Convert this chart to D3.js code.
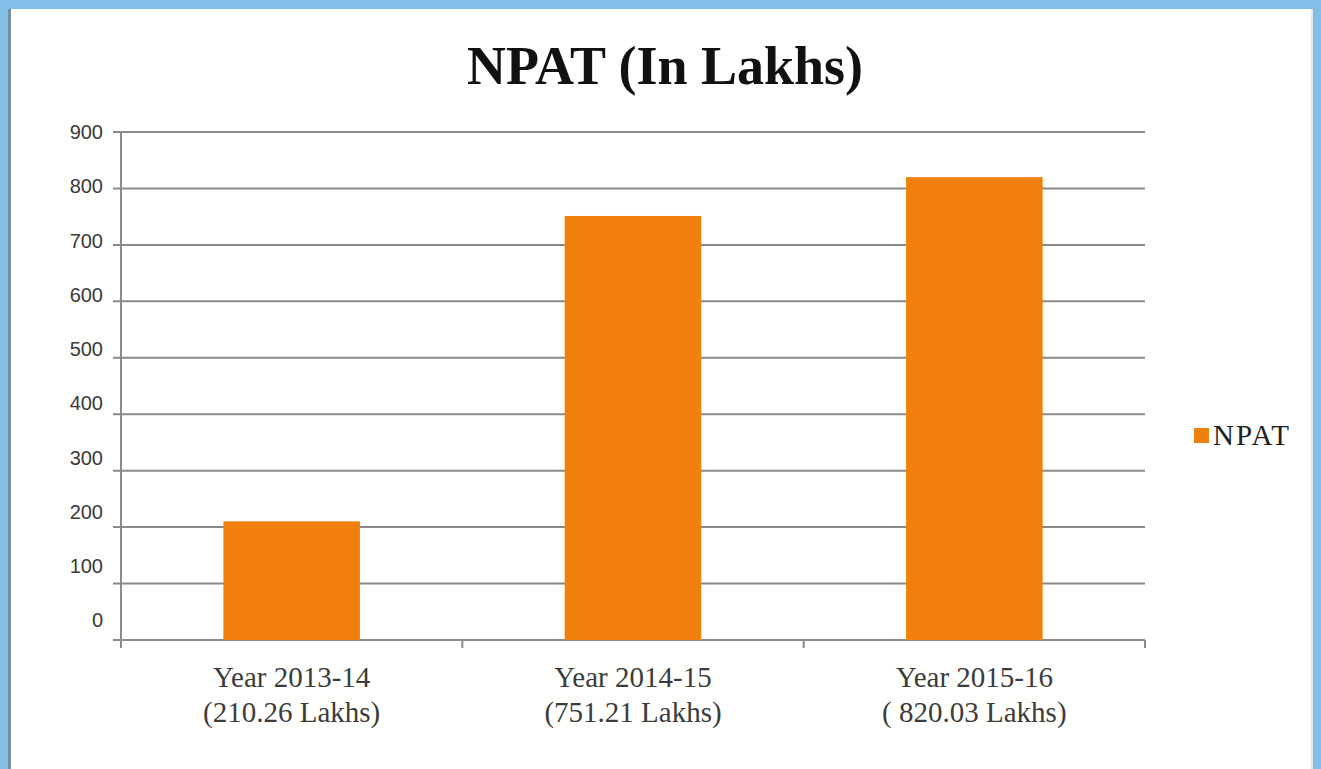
<!DOCTYPE html>
<html>
<head>
<meta charset="utf-8">
<script src="https://cdn.jsdelivr.net/npm/d3@7"></script>
<style>
  html, body { margin: 0; padding: 0; background: #84bde6; }
  svg { display: block; }
</style>
</head>
<body>
<svg id="chart" width="1321" height="769"></svg>
<script>
const categories = ['Year 2013-14', 'Year 2014-15', 'Year 2015-16']
const subLabels = ['(210.26 Lakhs)', '(751.21 Lakhs)', '( 820.03 Lakhs)']
const npat = [210.26, 751.21, 820.03]
const yTicks = [0, 100, 200, 300, 400, 500, 600, 700, 800, 900]

window.addEventListener('load', () => {
  const svg = d3.select('#chart')
  const left = 121, right = 1145, top = 132, bottom = 640

  // panel
  svg.append('rect').attr('x', 0).attr('y', 0).attr('width', 1321).attr('height', 769).attr('fill', '#84bde6')
  svg.append('rect').attr('x', 8).attr('y', 9).attr('width', 1305).attr('height', 760).attr('fill', '#fffffd')
  svg.append('rect').attr('x', 8).attr('y', 9).attr('width', 3).attr('height', 760).attr('fill', '#7a8c99')
  svg.append('rect').attr('x', 1311).attr('y', 9).attr('width', 2).attr('height', 760).attr('fill', '#dfe9f0')

  const x = d3.scaleBand().domain(categories).range([left, right]).paddingInner(0).paddingOuter(0)
  const y = d3.scaleLinear().domain([0, 900]).range([bottom, top])
  // the value labels in the picture sit a bit tighter than the gridlines
  const yLabel = d3.scaleLinear().domain([0, 900]).range([620, 132])

  svg.append('text')
    .attr('x', 665).attr('y', 84)
    .attr('text-anchor', 'middle')
    .attr('font-family', '"Liberation Serif", serif')
    .attr('font-weight', 'bold')
    .attr('font-size', 54)
    .attr('fill', '#111')
    .text('NPAT (In Lakhs)')

  // gridlines
  svg.append('g')
    .selectAll('line')
    .data(yTicks)
    .enter()
    .append('line')
    .attr('x1', left - 8).attr('x2', right)
    .attr('y1', (d) => y(d)).attr('y2', (d) => y(d))
    .attr('stroke', '#8a8a8a')
    .attr('stroke-width', 2)

  // y axis line
  svg.append('line')
    .attr('x1', left).attr('x2', left)
    .attr('y1', top).attr('y2', bottom + 8)
    .attr('stroke', '#8a8a8a').attr('stroke-width', 2)

  // x ticks
  const xEdges = categories.map((c) => x(c)).concat([x(categories[2]) + x.bandwidth()])
  svg.append('g')
    .selectAll('line')
    .data(xEdges)
    .enter()
    .append('line')
    .attr('x1', (d) => d).attr('x2', (d) => d)
    .attr('y1', bottom).attr('y2', bottom + 8)
    .attr('stroke', '#8a8a8a').attr('stroke-width', 2)

  svg.append('g')
    .selectAll('text')
    .data(yTicks)
    .enter()
    .append('text')
    .attr('x', 103)
    .attr('y', (d) => yLabel(d))
    .attr('dy', '0.36em')
    .attr('text-anchor', 'end')
    .attr('font-family', '"Liberation Sans", Arial, sans-serif')
    .attr('font-size', 20)
    .attr('fill', '#3a3a3a')
    .text((d) => d)

  const barW = x.bandwidth() * 0.4
  svg.append('g')
    .selectAll('rect')
    .data(npat)
    .enter()
    .append('rect')
    .attr('x', (d, i) => x(categories[i]) + (x.bandwidth() - barW) / 2)
    .attr('y', (d) => y(d))
    .attr('width', barW)
    .attr('height', (d) => y(0) - y(d))
    .attr('fill', '#f0800b')

  const labels = svg.append('g')
    .selectAll('text')
    .data(categories)
    .enter()
    .append('text')
    .attr('text-anchor', 'middle')
    .attr('font-family', '"Liberation Serif", serif')
    .attr('font-size', 29)
    .attr('fill', '#3c3c3c')
  labels.append('tspan')
    .attr('x', (d) => x(d) + x.bandwidth() / 2)
    .attr('y', 687)
    .text((d) => d)
  labels.append('tspan')
    .attr('x', (d) => x(d) + x.bandwidth() / 2)
    .attr('y', 722)
    .text((d, i) => subLabels[i])

  // legend
  svg.append('rect')
    .attr('x', 1194).attr('y', 428).attr('width', 15).attr('height', 15)
    .attr('fill', '#f0800b')
  svg.append('text')
    .attr('x', 1213).attr('y', 445)
    .attr('font-family', '"Liberation Serif", serif')
    .attr('font-size', 29)
    .attr('letter-spacing', 2)
    .attr('fill', '#222')
    .text('NPAT')
})
</script>
</body>
</html>
